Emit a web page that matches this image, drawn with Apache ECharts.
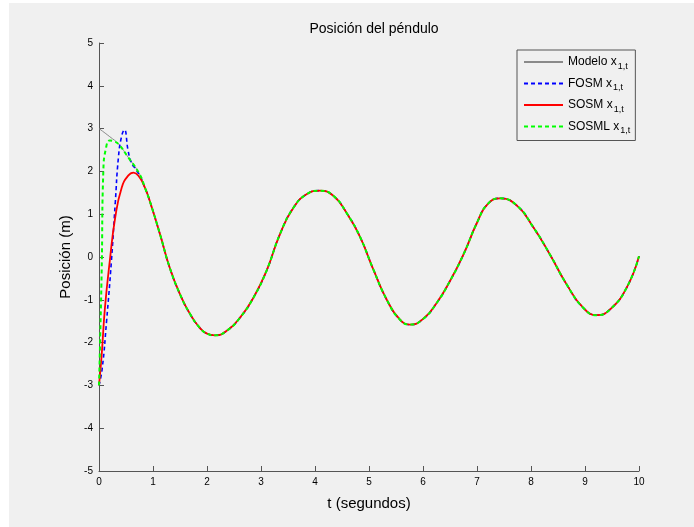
<!DOCTYPE html>
<html>
<head>
<meta charset="utf-8">
<script src="https://cdn.jsdelivr.net/npm/echarts@6/dist/echarts.min.js"></script>
<style>
html,body{margin:0;padding:0;background:#ffffff;}
#wrap{position:absolute;left:0;top:0;width:694px;height:527px;background:#ffffff;}
#chart{position:absolute;left:9px;top:3px;width:685px;height:524px;}
</style>
</head>
<body>
<div id="wrap"><div id="chart"></div></div>
<script>
// Tick values
const xTicks = [0,1,2,3,4,5,6,7,8,9,10];
const yTicks = [-5,-4,-3,-2,-1,0,1,2,3,4,5];

// Modelo x_{1,t}
const tModel = [0,0.2,0.36,0.54,0.75,0.85,0.94,1.13,1.31,1.5,1.69,1.87,2.0,2.15,2.36,2.61,2.86,3.1,3.35,3.6,3.85,4.09,4.34,4.59,4.83,5.08,5.33,5.57,5.76,6.0,6.25,6.5,6.75,7.0,7.2,7.43,7.74,8.04,8.35,8.66,8.97,9.22,9.46,9.77,10.0];
const yModel = [3.0,2.81,2.64,2.33,1.94,1.62,1.31,0.53,-0.25,-0.87,-1.34,-1.66,-1.79,-1.83,-1.73,-1.42,-0.95,-0.33,0.53,1.15,1.47,1.55,1.43,1.02,0.48,-0.29,-1.0,-1.46,-1.58,-1.45,-1.08,-0.56,0.06,0.8,1.24,1.37,1.2,0.7,0.06,-0.64,-1.19,-1.36,-1.23,-0.72,0.02];

// FOSM transient (joins model afterwards)
const tFosm = [0,0.06,0.14,0.23,0.3,0.36,0.42,0.47,0.54,0.6,0.68,0.76];
const yFosm = [-3.0,-2.6,-1.5,-0.09,1.24,2.33,2.83,2.97,2.48,2.2,2.05,1.88];

// SOSM transient
const tSosm = [0,0.05,0.11,0.2,0.3,0.42,0.54,0.64,0.74,0.85];
const ySosm = [-3.0,-2.28,-1.19,-0.09,0.92,1.62,1.9,1.97,1.88,1.62];

// SOSML transient
const tSosml = [0,0.02,0.05,0.08,0.13,0.2,0.28,0.36];
const ySosml = [-3.0,-2.0,-0.3,2.0,2.55,2.72,2.7,2.64];

function zip(t, y){ return t.map((v,i)=>[v,y[i]]); }
const model = zip(tModel, yModel);
function withTail(t, y){
  const last = t[t.length-1];
  return zip(t,y).concat(model.filter(p=>p[0]>last+0.05));
}

const chart = echarts.init(document.getElementById('chart'));
const sub = {
  m:{fontSize:12,color:'#000',fontFamily:'Liberation Sans'},
  s:{fontSize:9,color:'#000',fontFamily:'Liberation Sans',padding:[9,0,0,1]}
};
const SM = 0.5;
chart.setOption({
  backgroundColor:'#f0f0f0',
  animation:false,
  title:{text:'Posición del péndulo',left:360,textAlign:'center',top:14,
    textStyle:{fontSize:14,fontWeight:'normal',color:'#000',fontFamily:'Liberation Sans'}},
  grid:{left:90,right:55,top:40,bottom:56},
  legend:{
    orient:'vertical',left:508,top:47,
    itemWidth:39,itemHeight:10,itemGap:6.5,
    backgroundColor:'#f0f0f0',borderColor:'#555',borderWidth:1,
    padding:[6,5,5,6],
    itemStyle:{opacity:0},
    textStyle:{rich:sub,fontSize:12,color:'#000'},
    formatter:function(n){
      const base = n.replace(' x_{1,t}','');
      return '{m|'+base+' x}{s|1,t}';
    },
    data:['Modelo x_{1,t}','FOSM x_{1,t}','SOSM x_{1,t}','SOSML x_{1,t}']
  },
  xAxis:{
    type:'value',min:xTicks[0],max:xTicks[xTicks.length-1],interval:1,
    name:'t (segundos)',nameLocation:'middle',nameGap:25,
    nameTextStyle:{fontSize:15,color:'#000',fontFamily:'Liberation Sans'},
    axisLine:{onZero:false,lineStyle:{color:'#555',width:1}},
    axisTick:{inside:true,length:5,lineStyle:{color:'#555'}},
    axisLabel:{fontSize:10,color:'#000',margin:6,fontFamily:'Liberation Sans'},
    splitLine:{show:false}
  },
  yAxis:{
    type:'value',min:yTicks[0],max:yTicks[yTicks.length-1],interval:1,
    name:'Posición (m)',nameLocation:'middle',nameGap:22,nameRotate:90,
    nameTextStyle:{fontSize:15,color:'#000',fontFamily:'Liberation Sans'},
    axisLine:{show:true,onZero:false,lineStyle:{color:'#555',width:1}},
    axisTick:{show:true,inside:true,length:5,lineStyle:{color:'#555'}},
    axisLabel:{fontSize:10,color:'#000',margin:6,fontFamily:'Liberation Sans'},
    splitLine:{show:false}
  },
  series:[
    {name:'Modelo x_{1,t}',type:'line',data:model,smooth:SM,symbol:'none',
      lineStyle:{color:'#8a8a8a',width:1},itemStyle:{color:'#8a8a8a'}},
    {name:'FOSM x_{1,t}',type:'line',data:withTail(tFosm,yFosm),smooth:SM,symbol:'none',
      lineStyle:{color:'#0000ff',width:1.6,type:[4,3]},itemStyle:{color:'#0000ff'}},
    {name:'SOSM x_{1,t}',type:'line',data:withTail(tSosm,ySosm),smooth:SM,symbol:'none',
      lineStyle:{color:'#ff0000',width:1.8},itemStyle:{color:'#ff0000'}},
    {name:'SOSML x_{1,t}',type:'line',data:withTail(tSosml,ySosml),smooth:SM,symbol:'none',
      lineStyle:{color:'#00ff00',width:2,type:[4,3]},itemStyle:{color:'#00ff00'}}
  ]
});
</script>
</body>
</html>
